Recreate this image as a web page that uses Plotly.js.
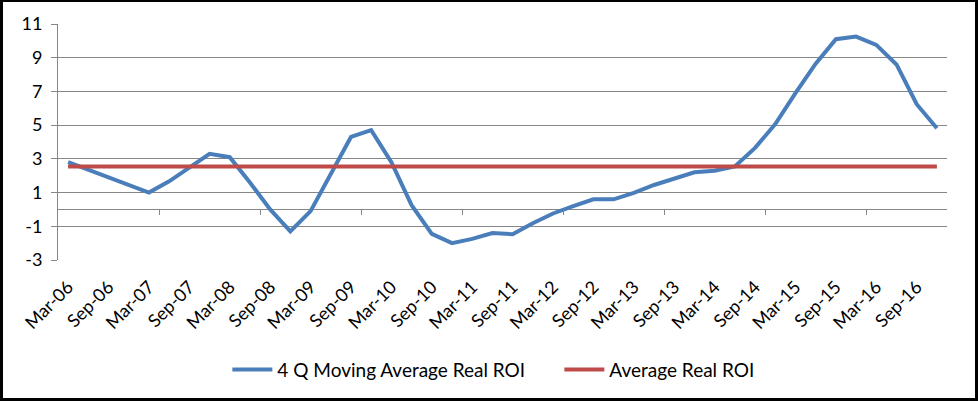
<!DOCTYPE html>
<html>
<head>
<meta charset="utf-8">
<script src="https://cdn.plot.ly/plotly-3.0.1.min.js"></script>
<style>
  html, body { margin: 0; padding: 0; background: #fff; }
  #wrap { position: relative; width: 978px; height: 401px; }
  #chart { width: 978px; height: 401px; }
  #frame { position: absolute; left: 0; top: 0; width: 978px; height: 401px; box-sizing: border-box;
           border-style: solid; border-color: #000; border-width: 2px 3px 3px 3px; pointer-events: none; }
</style>
</head>
<body>
<div id="wrap"><div id="chart"></div><div id="frame"></div></div>
<script>
// Quarterly categories, Mar-06 .. Dec-16
const categories = [
  "Mar-06","Jun-06","Sep-06","Dec-06","Mar-07","Jun-07","Sep-07","Dec-07",
  "Mar-08","Jun-08","Sep-08","Dec-08","Mar-09","Jun-09","Sep-09","Dec-09",
  "Mar-10","Jun-10","Sep-10","Dec-10","Mar-11","Jun-11","Sep-11","Dec-11",
  "Mar-12","Jun-12","Sep-12","Dec-12","Mar-13","Jun-13","Sep-13","Dec-13",
  "Mar-14","Jun-14","Sep-14","Dec-14","Mar-15","Jun-15","Sep-15","Dec-15",
  "Mar-16","Jun-16","Sep-16","Dec-16"
];
const movingAvgROI = [
  2.8, 2.35, 1.9, 1.45, 1.0, 1.67, 2.5, 3.3,
  3.1, 1.6, 0.0, -1.3, -0.1, 2.1, 4.3, 4.7,
  2.8, 0.25, -1.45, -2.0, -1.75, -1.4, -1.47, -0.82,
  -0.24, 0.2, 0.6, 0.6, 0.98, 1.45, 1.82, 2.2,
  2.3, 2.55, 3.65, 5.06, 6.9, 8.65, 10.1, 10.25,
  9.76, 8.6, 6.24, 4.82
];
const averageROIValue = 2.55;
const averageROI = categories.map(() => averageROIValue);
const seriesNames = ["4 Q Moving Average Real ROI", "Average Real ROI"];
const labelEvery = 2;   // axis label interval (categories)
const tickEvery = 5;    // tick mark interval (categories)
const yTicks = [-3, -1, 1, 3, 5, 7, 9, 11];

const idx = categories.map((_, i) => i);
const labelVals = idx.filter(i => i % labelEvery === 0);
const labelText = labelVals.map(i => categories[i]);
const tickMarkVals = [];
for (let b = tickEvery - 0.5; b < categories.length - 0.5; b += tickEvery) tickMarkVals.push(b);

const yMin = -3, yMax = 11;
const fontFam = "Lato, 'Open Sans', sans-serif";
const grid = "#868686";

const traces = [
  { x: idx, y: movingAvgROI, name: seriesNames[0], type: "scatter", mode: "lines",
    line: { color: "#4A7EBB", width: 4 }, hoverinfo: "skip" },
  { x: idx, y: averageROI, name: seriesNames[1], type: "scatter", mode: "lines",
    line: { color: "#BE4B48", width: 4 }, hoverinfo: "skip" }
];

const layout = {
  width: 978, height: 401,
  margin: { l: 58, r: 31, t: 24, b: 139 },
  paper_bgcolor: "#fff", plot_bgcolor: "#fff",
  font: { family: fontFam, color: "#000" },
  showlegend: true,
  legend: { orientation: "h", x: 0.1905, xanchor: "left", y: -0.465, yanchor: "middle",
            font: { size: 19, family: fontFam, color: "#000" }, itemwidth: 40,
            entrywidth: 277, entrywidthmode: "pixels" },
  xaxis: {
    type: "linear", range: [-0.5, categories.length - 0.5], fixedrange: true,
    tickmode: "array", tickvals: labelVals, ticktext: labelText,
    tickangle: -45, ticks: "", showgrid: false, zeroline: false, showline: false,
    tickfont: { size: 18, family: fontFam, color: "#000" }, ticklabelstandoff: 12
  },
  xaxis2: {
    type: "linear", overlaying: "x", anchor: "free", side: "bottom",
    position: (0 - yMin) / (yMax - yMin),
    range: [-0.5, categories.length - 0.5], fixedrange: true,
    tickmode: "array", tickvals: tickMarkVals, ticktext: tickMarkVals.map(() => ""),
    ticks: "outside", ticklen: 5, tickcolor: grid, tickwidth: 1,
    showticklabels: false, showgrid: false, zeroline: false, showline: false
  },
  yaxis: {
    range: [yMin, yMax], fixedrange: true,
    tickmode: "array", tickvals: yTicks, ticktext: yTicks.map(String),
    showgrid: true, gridcolor: grid, gridwidth: 1,
    zeroline: true, zerolinecolor: grid, zerolinewidth: 1,
    showline: true, linecolor: grid, linewidth: 1,
    ticks: "outside", ticklen: 6, tickcolor: grid,
    tickfont: { size: 18, family: fontFam, color: "#000" }, ticklabelstandoff: 5
  }
};

// invisible helper trace so xaxis2 is drawn
traces.push({ x: [0], y: [averageROIValue], xaxis: "x2", yaxis: "y", type: "scatter", mode: "markers",
  marker: { opacity: 0 }, showlegend: false, hoverinfo: "skip" });

Plotly.newPlot("chart", traces, layout, { staticPlot: true, displayModeBar: false });
</script>
</body>
</html>
